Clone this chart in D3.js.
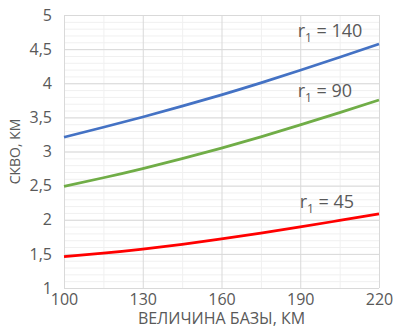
<!DOCTYPE html>
<html>
<head>
<meta charset="utf-8">
<script src="https://cdn.jsdelivr.net/npm/d3@7"></script>
<style>
	body { margin: 0; background: #fff; }
	svg { display: block; font-family: "Open Sans", sans-serif; }
</style>
</head>
<body>
<div class="js-chart"></div>
<script>
'use strict';

// base length, km
const baseValues = [100, 115, 130, 145, 160, 175, 190, 205, 220];

// СКВО for each r1
const r140Values = [3.21, 3.355, 3.505, 3.665, 3.83, 4.005, 4.19, 4.38, 4.575];
const r90Values = [2.49, 2.615, 2.75, 2.895, 3.05, 3.215, 3.39, 3.57, 3.755];
const r45Values = [1.46, 1.51, 1.57, 1.64, 1.72, 1.805, 1.895, 1.99, 2.085];

const seriesNames = ['140', '90', '45'];

const xTicks = [100, 130, 160, 190, 220];
const yTicks = [1, 1.5, 2, 2.5, 3, 3.5, 4, 4.5, 5];

const xTitle = 'ВЕЛИЧИНА БАЗЫ, КМ';
const yTitle = 'СКВО, КМ';

function drawChart() {

	let svgWidth = 394;
	let svgHeight = 326;
	let margin = {top: 15, right: 15, bottom: 38, left: 64};
	let plotWidth = svgWidth - margin.left - margin.right;
	let plotHeight = svgHeight - margin.top - margin.bottom;

	const colors = ['#4472c4', '#70ad47', '#ff0000'];
	const seriesValues = [r140Values, r90Values, r45Values];

	const xScale = d3.scaleLinear()
		.domain([100, 220])
		.range([0, plotWidth]);

	const yScale = d3.scaleLinear()
		.domain([1, 5])
		.range([plotHeight, 0]);

	let svg = d3.select('.js-chart')
		.append('svg')
		.attr('width', svgWidth)
		.attr('height', svgHeight);

	let plot = svg.append('g')
		.attr('transform', `translate(${margin.left},${margin.top})`);

	// minor grid first so the major lines sit on top
	plot.append('g')
		.call(d3.axisLeft(yScale).ticks(40).tickSize(-plotWidth).tickFormat(''))
		.call(g => g.select('.domain').remove())
		.selectAll('line')
		.attr('stroke', '#f0f0f0');

	plot.append('g')
		.call(d3.axisBottom(xScale).tickValues(d3.range(115, 220, 30)).tickSize(plotHeight).tickFormat(''))
		.call(g => g.select('.domain').remove())
		.selectAll('line')
		.attr('stroke', '#f0f0f0');

	// major grid
	plot.append('g')
		.call(d3.axisLeft(yScale).tickValues(yTicks).tickSize(-plotWidth).tickFormat(''))
		.call(g => g.select('.domain').remove())
		.selectAll('line')
		.attr('stroke', '#d9d9d9');

	plot.append('g')
		.call(d3.axisBottom(xScale).tickValues(xTicks).tickSize(plotHeight).tickFormat(''))
		.call(g => g.select('.domain').remove())
		.selectAll('line')
		.attr('stroke', '#d9d9d9');

	// tick labels
	plot.append('g')
		.call(d3.axisLeft(yScale).tickValues(yTicks).tickSize(0).tickPadding(12)
			.tickFormat(d => String(d).replace('.', ',')))
		.call(g => g.select('.domain').remove())
		.selectAll('text')
		.attr('fill', '#595959')
		.attr('font-size', '16px')
		.attr('font-family', '"Open Sans", sans-serif');

	plot.append('g')
		.attr('transform', `translate(0,${plotHeight})`)
		.call(d3.axisBottom(xScale).tickValues(xTicks).tickSize(0).tickPadding(6))
		.call(g => g.select('.domain').remove())
		.selectAll('text')
		.attr('fill', '#595959')
		.attr('font-size', '16px')
		.attr('font-family', '"Open Sans", sans-serif');

	// curves
	const line = d3.line()
		.x((d, i) => xScale(baseValues[i]))
		.y(d => yScale(d))
		.curve(d3.curveNatural);

	plot.selectAll('path.series')
		.data(seriesValues)
		.enter()
		.append('path')
		.classed('series', true)
		.attr('d', line)
		.attr('fill', 'none')
		.attr('stroke', (d, i) => colors[i])
		.attr('stroke-width', 2.75);

	// r1 labels, placed above the curve near x = 190
	const labelOffsets = [33, 28, 19];
	let labels = plot.selectAll('text.label')
		.data(seriesNames)
		.enter()
		.append('text')
		.classed('label', true)
		.attr('x', (d, i) => xScale(189) + (i == 2 ? 2 : 0))
		.attr('y', (d, i) => yScale(seriesValues[i][6]) - labelOffsets[i])
		.attr('fill', '#595959')
		.attr('font-size', '18px');

	labels.append('tspan').text('r');
	labels.append('tspan').attr('font-size', '12px').attr('dy', 5).text('1');
	labels.append('tspan').attr('dy', -5).text(d => ' = ' + d);

	// axis titles
	svg.append('text')
		.attr('x', margin.left + plotWidth / 2)
		.attr('y', 324)
		.attr('text-anchor', 'middle')
		.attr('fill', '#595959')
		.attr('font-size', '16px')
		.text(xTitle);

	svg.append('text')
		.attr('transform', `translate(20,${margin.top + plotHeight / 2}) rotate(-90)`)
		.attr('text-anchor', 'middle')
		.attr('fill', '#595959')
		.attr('font-size', '14px')
		.text(yTitle);
}

drawChart();
</script>
</body>
</html>
